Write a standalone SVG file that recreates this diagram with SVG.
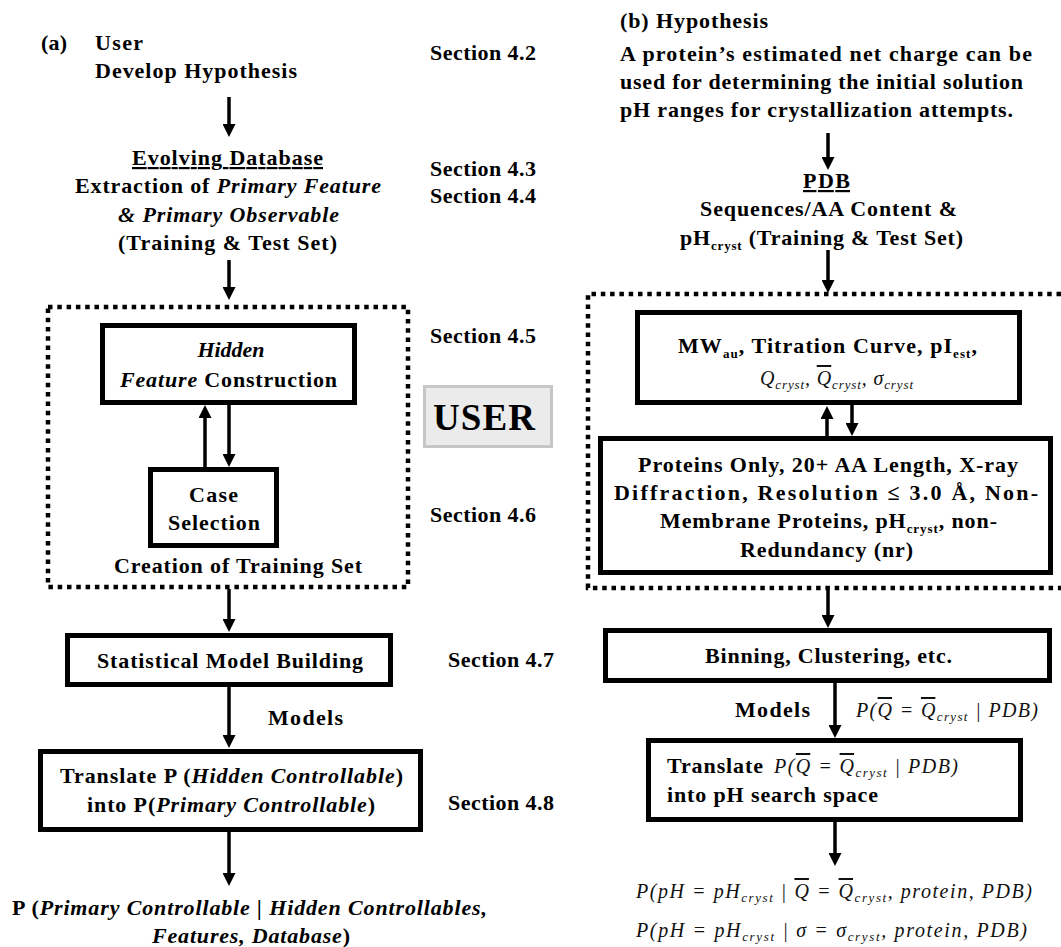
<svg xmlns="http://www.w3.org/2000/svg" width="1061" height="947" viewBox="0 0 1061 947">
  <style>
    .t { font-family: "Liberation Serif", "Times New Roman", serif; font-weight: bold; font-size: 22px; fill: #000; }
    .it { font-style: italic; }
    .sb { font-size: 13px; }
    .m { font-family: "Liberation Serif", "Times New Roman", serif; font-style: italic; font-weight: normal; font-size: 20px; fill: #111; }
    .ov { text-decoration: overline; }
    .ul { text-decoration: underline; }
    .box { fill: none; stroke: #000; stroke-width: 5; }
    .dot { fill: none; stroke: #000; stroke-width: 4.5; stroke-dasharray: 4.5 4.8; }
    .arr { stroke: #000; stroke-width: 3.5; fill: none; marker-end: url(#ah); }
    .userbox { fill: #ebebeb; stroke: #c6c6c6; stroke-width: 3; }
  </style>
  <defs>
    <marker id="ah" markerUnits="userSpaceOnUse" markerWidth="13" markerHeight="13" viewBox="0 0 13 13" refX="3" refY="6.5" orient="auto">
      <path d="M0,0 L13,6.5 L0,13 z" fill="#000"/>
    </marker>
  </defs>
  <rect width="1061" height="947" fill="#fff"/>

  <!-- connectors -->
  <g id="connectors">
    <!-- left flow -->
    <line class="arr" x1="229" y1="97" x2="229" y2="127"/>
    <line class="arr" x1="229" y1="260" x2="229" y2="290"/>
    <line class="arr" x1="205" y1="467" x2="205" y2="415"/>
    <line class="arr" x1="229" y1="405" x2="229" y2="457"/>
    <line class="arr" x1="229" y1="589" x2="229" y2="622"/>
    <line class="arr" x1="229" y1="687" x2="229" y2="738"/>
    <line class="arr" x1="229" y1="832" x2="229" y2="876"/>
    <!-- right flow -->
    <line class="arr" x1="828" y1="133" x2="828" y2="160"/>
    <line class="arr" x1="828" y1="250" x2="828" y2="283"/>
    <line class="arr" x1="827" y1="436" x2="827" y2="416"/>
    <line class="arr" x1="852" y1="405" x2="852" y2="426"/>
    <line class="arr" x1="828" y1="590" x2="828" y2="618"/>
    <line class="arr" x1="835" y1="683" x2="835" y2="728"/>
    <line class="arr" x1="835" y1="822" x2="835" y2="856"/>
  </g>

  <!-- (a) general procedure -->
  <g id="a-hypothesis">
    <text class="t" x="41" y="50" textLength="26">(a)</text>
    <text class="t" x="95" y="50" textLength="48">User</text>
    <text class="t" x="95" y="78" textLength="202" lengthAdjust="spacing">Develop Hypothesis</text>
  </g>

  <g id="a-database">
    <text class="t ul" x="132" y="165" textLength="191" lengthAdjust="spacing">Evolving Database</text>
    <text class="t" x="75" y="193" textLength="306" lengthAdjust="spacing">Extraction of <tspan class="it">Primary Feature</tspan></text>
    <text class="t it" x="118" y="222" textLength="221" lengthAdjust="spacing">&amp; Primary Observable</text>
    <text class="t" x="118" y="250" textLength="219" lengthAdjust="spacing">(Training &amp; Test Set)</text>
  </g>

  <g id="a-training-set">
    <rect class="dot" x="48" y="307" width="360" height="280"/>
    <text class="t" x="114" y="573" textLength="248" lengthAdjust="spacing">Creation of Training Set</text>
  </g>

  <g id="a-hidden-feature">
    <rect class="box" x="102.5" y="325.5" width="252" height="77"/>
    <text class="t it" x="231" y="357" text-anchor="middle">Hidden</text>
    <text class="t" x="120" y="387" textLength="217" lengthAdjust="spacing"><tspan class="it">Feature</tspan> Construction</text>
  </g>

  <g id="a-case-selection">
    <rect class="box" x="150.5" y="469.5" width="126" height="76"/>
    <text class="t" x="189" y="502" textLength="49" lengthAdjust="spacing">Case</text>
    <text class="t" x="168" y="530" textLength="92" lengthAdjust="spacing">Selection</text>
  </g>

  <g id="a-user">
    <rect class="userbox" x="424.5" y="386.5" width="127" height="60"/>
    <text class="t" x="433" y="430" textLength="102" lengthAdjust="spacing" style="font-size:37px">USER</text>
  </g>

  <g id="a-model-building">
    <rect class="box" x="67.5" y="635.5" width="323" height="49"/>
    <text class="t" x="97" y="668" textLength="266" lengthAdjust="spacing">Statistical Model Building</text>
    <text class="t" x="268" y="725" textLength="75" lengthAdjust="spacing">Models</text>
  </g>

  <g id="a-translate">
    <rect class="box" x="40.5" y="751.5" width="380" height="78"/>
    <text class="t" x="60" y="783" textLength="343" lengthAdjust="spacing">Translate P (<tspan class="it">Hidden Controllable</tspan>)</text>
    <text class="t" x="87" y="812" textLength="288" lengthAdjust="spacing">into P(<tspan class="it">Primary Controllable</tspan>)</text>
  </g>

  <g id="a-result">
    <text class="t" x="12" y="915" textLength="475" lengthAdjust="spacing">P (<tspan class="it">Primary Controllable | Hidden Controllables,</tspan></text>
    <text class="t" x="152" y="943" textLength="198" lengthAdjust="spacing"><tspan class="it">Features, Database</tspan>)</text>
  </g>

  <g id="a-sections">
    <text class="t" x="430" y="60" textLength="106" lengthAdjust="spacing">Section 4.2</text>
    <text class="t" x="430" y="176" textLength="106" lengthAdjust="spacing">Section 4.3</text>
    <text class="t" x="430" y="203" textLength="106" lengthAdjust="spacing">Section 4.4</text>
    <text class="t" x="430" y="343" textLength="106" lengthAdjust="spacing">Section 4.5</text>
    <text class="t" x="430" y="522" textLength="106" lengthAdjust="spacing">Section 4.6</text>
    <text class="t" x="448" y="667" textLength="106" lengthAdjust="spacing">Section 4.7</text>
    <text class="t" x="448" y="810" textLength="106" lengthAdjust="spacing">Section 4.8</text>
  </g>

  <!-- (b) net charge example -->
  <g id="b-hypothesis">
    <text class="t" x="620" y="28" textLength="148" lengthAdjust="spacing">(b) Hypothesis</text>
    <text class="t" x="620" y="61" textLength="412" lengthAdjust="spacing">A protein’s estimated net charge can be</text>
    <text class="t" x="620" y="89" textLength="403" lengthAdjust="spacing">used for determining the initial solution</text>
    <text class="t" x="620" y="117" textLength="393" lengthAdjust="spacing">pH ranges for crystallization attempts.</text>
  </g>

  <g id="b-pdb">
    <text class="t ul" x="803" y="188" textLength="47" lengthAdjust="spacing">PDB</text>
    <text class="t" x="700" y="216" textLength="257" lengthAdjust="spacing">Sequences/AA Content &amp;</text>
    <text class="t" x="680" y="245" textLength="283" lengthAdjust="spacing">pH<tspan class="sb" dy="5">cryst</tspan><tspan dy="-5"> (Training &amp; Test Set)</tspan></text>
  </g>

  <g id="b-feature-set">
    <path class="dot" d="M1061,294 H588 V588 H1061"/>
  </g>

  <g id="b-features">
    <rect class="box" x="637.5" y="312.5" width="382" height="90"/>
    <text class="t" x="678" y="353" textLength="299" lengthAdjust="spacing">MW<tspan class="sb" dy="5">au</tspan><tspan dy="-5">, Titration Curve, pI</tspan><tspan class="sb" dy="5">est</tspan><tspan dy="-5">,</tspan></text>
    <text class="m" x="760" y="385" textLength="153" lengthAdjust="spacing">Q<tspan class="sb" dy="4">cryst</tspan><tspan dy="-4">, </tspan><tspan class="ov">Q</tspan><tspan class="sb" dy="4">cryst</tspan><tspan dy="-4">, σ</tspan><tspan class="sb" dy="4">cryst</tspan></text>
  </g>

  <g id="b-filters">
    <rect class="box" x="600.5" y="438.5" width="450" height="134"/>
    <text class="t" x="638" y="472" textLength="380" lengthAdjust="spacing">Proteins Only, 20+ AA Length, X-ray</text>
    <text class="t" x="614" y="500" textLength="424" lengthAdjust="spacing">Diffraction, Resolution ≤ 3.0 Å, Non-</text>
    <text class="t" x="660" y="528" textLength="337" lengthAdjust="spacing">Membrane Proteins, pH<tspan class="sb" dy="5">cryst</tspan><tspan dy="-5">, non-</tspan></text>
    <text class="t" x="740" y="557" textLength="173" lengthAdjust="spacing">Redundancy (nr)</text>
  </g>

  <g id="b-binning">
    <rect class="box" x="605.5" y="630.5" width="444" height="50"/>
    <text class="t" x="705" y="663" textLength="247" lengthAdjust="spacing">Binning, Clustering, etc.</text>
    <text class="t" x="735" y="717" textLength="75" lengthAdjust="spacing">Models</text>
    <text class="m" x="856" y="717" textLength="182" lengthAdjust="spacing">P(<tspan class="ov">Q</tspan> = <tspan class="ov">Q</tspan><tspan class="sb" dy="4">cryst</tspan><tspan dy="-4"> | PDB)</tspan></text>
  </g>

  <g id="b-translate">
    <rect class="box" x="648.5" y="740.5" width="372" height="79"/>
    <text class="t" x="667" y="773" textLength="96" lengthAdjust="spacing">Translate</text>
    <text class="m" x="774" y="773" textLength="184" lengthAdjust="spacing">P(<tspan class="ov">Q</tspan> = <tspan class="ov">Q</tspan><tspan class="sb" dy="4">cryst</tspan><tspan dy="-4"> | PDB)</tspan></text>
    <text class="t" x="667" y="802" textLength="211" lengthAdjust="spacing">into pH search space</text>
  </g>

  <g id="b-result">
    <text class="m" x="636" y="898" textLength="396" lengthAdjust="spacing">P(pH = pH<tspan class="sb" dy="4">cryst</tspan><tspan dy="-4"> | </tspan><tspan class="ov">Q</tspan> = <tspan class="ov">Q</tspan><tspan class="sb" dy="4">cryst</tspan><tspan dy="-4">, protein, PDB)</tspan></text>
    <text class="m" x="636" y="937" textLength="391" lengthAdjust="spacing">P(pH = pH<tspan class="sb" dy="4">cryst</tspan><tspan dy="-4"> | σ = σ</tspan><tspan class="sb" dy="4">cryst</tspan><tspan dy="-4">, protein, PDB)</tspan></text>
  </g>
</svg>
